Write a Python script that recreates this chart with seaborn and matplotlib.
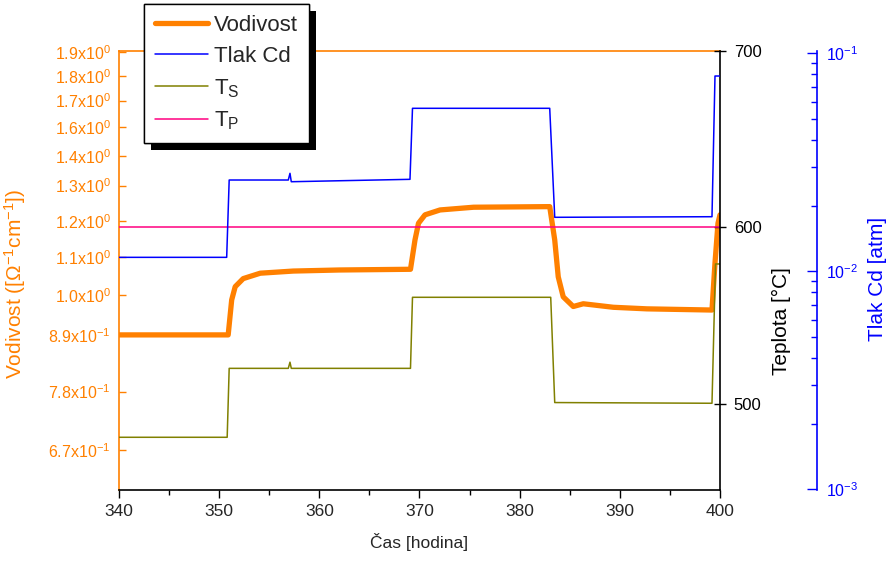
import matplotlib
matplotlib.use("Agg")
from matplotlib import pyplot as plt
from matplotlib import patheffects
from matplotlib.ticker import FixedLocator, NullLocator, LogLocator
import seaborn as sns

# conductivity (left axis, log)
t_vod = [340.0, 350.9, 351.25, 351.6, 352.4, 354.1, 357.4, 362.0, 369.1,
         369.55, 369.9, 370.55, 372.05, 375.4, 383.0, 383.5, 383.85, 384.35,
         385.35, 386.35, 389.35, 392.7, 399.2, 399.5, 399.8, 400.0]
vod = [0.906, 0.906, 0.993, 1.028, 1.050, 1.065, 1.071, 1.074, 1.076,
       1.162, 1.214, 1.241, 1.257, 1.266, 1.268, 1.162, 1.055, 1.001,
       0.976, 0.983, 0.974, 0.970, 0.967, 1.094, 1.214, 1.241]

# Cd pressure (far right axis, log)
t_cd = [340.0, 350.75, 351.0, 356.9, 357.07, 357.2, 369.05, 369.3, 383.0,
        383.5, 399.2, 399.5, 400.0]
cd = [0.01159, 0.01159, 0.02623, 0.02623, 0.02815, 0.02576, 0.02642, 0.05594,
      0.05594, 0.01769, 0.01780, 0.07868, 0.07868]

# source temperature T_S
t_ts = [340.0, 350.8, 351.0, 356.9, 357.07, 357.2, 369.1, 369.3, 383.1,
        383.5, 399.2, 399.55, 400.0]
ts = [480.9, 480.9, 520.0, 520.0, 523.5, 520.0, 520.0, 560.3, 560.3,
      500.6, 500.2, 579.2, 579.2]

# T_P
t_tp = [340.0, 400.0]
tp = [600.0, 600.0]

vod_ticks = [0.670, 0.781, 0.906, 1.006, 1.111, 1.221, 1.340, 1.448, 1.563,
             1.674, 1.786, 1.900]
vod_labels = ["6.7x10$^{-1}$", "7.8x10$^{-1}$", "8.9x10$^{-1}$", "1.0x10$^{0}$",
              "1.1x10$^{0}$", "1.2x10$^{0}$", "1.3x10$^{0}$", "1.4x10$^{0}$",
              "1.6x10$^{0}$", "1.7x10$^{0}$", "1.8x10$^{0}$", "1.9x10$^{0}$"]
temp_ticks = [500, 600, 700]
cd_ticks = [1e-3, 1e-2, 1e-1]
cd_labels = ["10$^{-3}$", "10$^{-2}$", "10$^{-1}$"]
x_ticks = [340, 350, 360, 370, 380, 390, 400]

ORANGE = "#FF8000"
BLUE = "#0000FF"
OLIVE = "#808000"
PINK = "#FF0080"

sns.set_theme(style="ticks")
plt.rcParams["font.family"] = ["Liberation Sans", "DejaVu Sans"]
plt.rcParams["mathtext.default"] = "regular"

fig = plt.figure(figsize=(8.9, 5.61), dpi=100)
ax = fig.add_axes([119 / 890, 71 / 561, 601 / 890, 439 / 561])
ax2 = ax.twinx()
ax3 = ax.twinx()

sns.lineplot(x=t_vod, y=vod, ax=ax, color=ORANGE, lw=3.8, estimator=None,
             sort=False, label="Vodivost", legend=False)
sns.lineplot(x=t_tp, y=tp, ax=ax2, color=PINK, lw=1.1, estimator=None,
             sort=False, label="T$_P$", legend=False)
sns.lineplot(x=t_ts, y=ts, ax=ax2, color=OLIVE, lw=1.1, estimator=None,
             sort=False, label="T$_S$", legend=False)
sns.lineplot(x=t_cd, y=cd, ax=ax3, color=BLUE, lw=1.1, estimator=None,
             sort=False, label="Tlak Cd", legend=False)

# x axis
ax.set_xlim(340, 400)
ax.set_xticks(x_ticks)
ax.xaxis.set_minor_locator(FixedLocator([345, 355, 365, 375, 385, 395]))
ax.tick_params(axis="x", which="major", direction="out", length=6, width=1,
               color="black", labelsize=12.5, pad=4)
ax.tick_params(axis="x", which="minor", direction="out", length=3.5, width=1,
               color="black", bottom=True)
ax.set_xlabel("Čas [hodina]", fontsize=12.5, labelpad=10)

# left axis
ax.set_yscale("log")
ax.set_ylim(0.6034, 1.9065)
ax.yaxis.set_major_locator(FixedLocator(vod_ticks))
ax.yaxis.set_minor_locator(NullLocator())
ax.set_yticklabels(vod_labels)
ax.tick_params(axis="y", which="major", direction="in", length=5, width=1,
               color=ORANGE, labelcolor=ORANGE, labelsize=11.5, pad=6)
ax.set_ylabel("Vodivost ([$\\Omega^{-1}$cm$^{-1}$])", color=ORANGE,
              fontsize=15)
ax.yaxis.set_label_coords(-0.152, 0.47)
ax.spines["left"].set_color(ORANGE)
ax.spines["top"].set_color(ORANGE)
ax.spines["bottom"].set_color("black")
ax.spines["right"].set_visible(False)
for s in ax.spines.values():
    s.set_linewidth(1.2)

# temperature axis
ax2.set_ylim(451, 700)
ax2.set_yticks(temp_ticks)
ax2.tick_params(axis="y", direction="inout", length=8, width=1, color="black",
                labelcolor="black", labelsize=12, pad=6)
ax2.set_ylabel("Teplota [°C]", color="black", fontsize=15)
ax2.yaxis.set_label_coords(1.086, 0.385)
for side in ["left", "top", "bottom"]:
    ax2.spines[side].set_visible(False)
ax2.spines["right"].set_color("black")
ax2.spines["right"].set_linewidth(1.2)

# Cd pressure axis
ax3.set_yscale("log")
ax3.set_ylim(10 ** -3.0032, 10 ** -0.9894)
ax3.yaxis.set_major_locator(FixedLocator(cd_ticks))
ax3.set_yticklabels(cd_labels)
ax3.yaxis.set_minor_locator(LogLocator(base=10, subs=range(2, 10)))
ax3.yaxis.set_minor_formatter(plt.NullFormatter())
ax3.spines["right"].set_position(("axes", 1.161))
ax3.spines["right"].set_color(BLUE)
ax3.spines["right"].set_linewidth(1.2)
for side in ["left", "top", "bottom"]:
    ax3.spines[side].set_visible(False)
ax3.tick_params(axis="y", which="major", direction="in", length=7, width=1,
                color=BLUE, labelcolor=BLUE, labelsize=11.5, pad=7)
ax3.tick_params(axis="y", which="minor", direction="in", length=4, width=1,
                color=BLUE)
ax3.set_ylabel("Tlak Cd [atm]", color=BLUE, fontsize=15)
ax3.yaxis.set_label_coords(1.247, 0.48)

# legend
h1, l1 = ax.get_legend_handles_labels()
h2, l2 = ax2.get_legend_handles_labels()
h3, l3 = ax3.get_legend_handles_labels()
handles = {lab: h for h, lab in zip(h1 + h2 + h3, l1 + l2 + l3)}
order = ["Vodivost", "Tlak Cd", "T$_S$", "T$_P$"]
leg = fig.legend([handles[k] for k in order], order, loc="upper left",
                 bbox_to_anchor=(144 / 890, 1 - 4 / 561), fontsize=16,
                 frameon=True, fancybox=False, handlelength=2.4,
                 handletextpad=0.25, borderpad=0.5, labelspacing=0.45,
                 borderaxespad=0)
frame = leg.get_frame()
frame.set_edgecolor("black")
frame.set_linewidth(1)
frame.set_facecolor("white")
frame.set_alpha(1)
frame.set_path_effects([
    patheffects.withSimplePatchShadow(offset=(5, -5), shadow_rgbFace="black",
                                      alpha=1),
    patheffects.Normal(),
])

fig.savefig("out.png", dpi=100)
